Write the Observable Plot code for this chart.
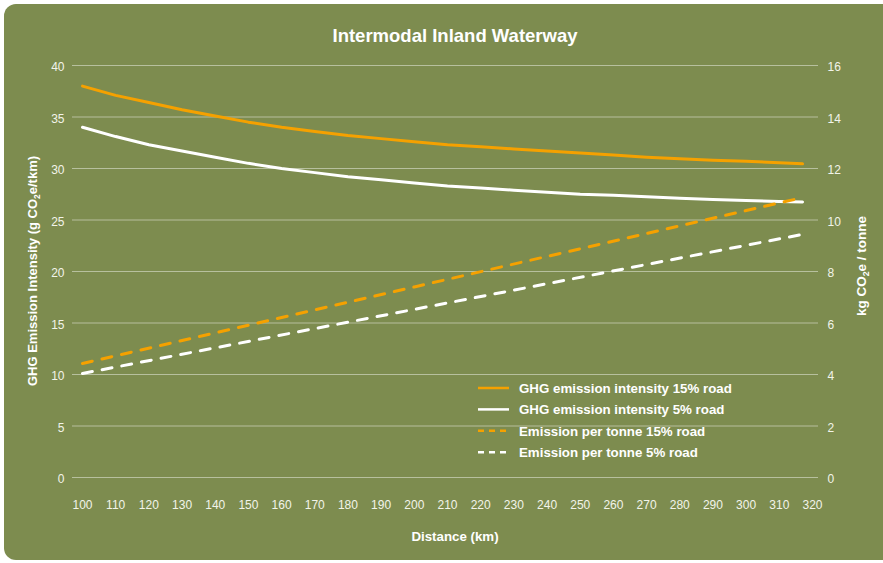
<!DOCTYPE html>
<html>
<head>
<meta charset="utf-8">
<script src="https://cdn.jsdelivr.net/npm/d3@7"></script>
<script src="https://cdn.jsdelivr.net/npm/@observablehq/plot@0.6"></script>
<style>
  html, body { margin: 0; padding: 0; background: #ffffff; }
  body { width: 883px; height: 563px; position: relative; overflow: hidden; font-family: "Liberation Sans", Arial, Helvetica, sans-serif; }
  #card { position: absolute; left: 4px; top: 4px; width: 900px; height: 556px; background: #7d8c4f; border-radius: 12px; }
  #chart { position: absolute; left: 0; top: 0; }
  #overlay { position: absolute; left: 0; top: 0; pointer-events: none; }
</style>
</head>
<body>
<div id="card"></div>
<div id="chart"></div>
<svg id="overlay" width="883" height="563"></svg>
<script>
// ---- data ----
const distance = [100,110,120,130,140,150,160,170,180,190,200,210,220,230,240,250,260,270,280,290,300,310,317];
const intensity15 = [38.0,37.1,36.4,35.7,35.1,34.5,34.0,33.6,33.2,32.9,32.6,32.3,32.1,31.9,31.7,31.5,31.3,31.1,30.95,30.8,30.7,30.55,30.45];
const intensity5  = [34.0,33.1,32.3,31.7,31.1,30.5,30.0,29.6,29.2,28.9,28.6,28.3,28.1,27.9,27.7,27.5,27.4,27.25,27.1,27.0,26.9,26.8,26.75];
const tonneDistance = [100, 200, 317];
const perTonne15 = [4.43, 7.40, 10.87];
const perTonne5  = [4.04, 6.53, 9.44];
const xTicks = [100,110,120,130,140,150,160,170,180,190,200,210,220,230,240,250,260,270,280,290,300,310,320];
const leftTicks = [0,5,10,15,20,25,30,35,40];
const rightTicks = [0,2,4,6,8,10,12,14,16];
const seriesNames = ["GHG emission intensity 15% road","GHG emission intensity 5% road","Emission per tonne 15% road","Emission per tonne 5% road"];
const title = "Intermodal Inland Waterway";

const ORANGE = "#f5a100";
const WHITE = "#ffffff";
const ratio = leftTicks[leftTicks.length-1] / rightTicks[rightTicks.length-1]; // 2.5

const solid15 = distance.map((d,i) => ({d, v: intensity15[i]}));
const solid5 = distance.map((d,i) => ({d, v: intensity5[i]}));
const dash15 = tonneDistance.map((d,i) => ({d, v: perTonne15[i] * ratio}));
const dash5 = tonneDistance.map((d,i) => ({d, v: perTonne5[i] * ratio}));

const chart = Plot.plot({
  width: 883,
  height: 563,
  marginLeft: 72,
  marginRight: 65,
  marginTop: 65,
  marginBottom: 86,
  style: { background: "transparent", color: "#f2f4ea", fontFamily: "'Liberation Sans', Arial, Helvetica, sans-serif", fontSize: "12px" },
  x: { domain: [100, 320], range: [82, 812] },
  y: { domain: [0, 40] },
  marks: [
    Plot.ruleY(leftTicks, { stroke: "rgba(255,255,255,0.45)", strokeWidth: 1 }),
    Plot.axisX({ ticks: xTicks, tickSize: 0, tickPadding: 23, label: null, tickFormat: d => String(d) }),
    Plot.axisY({ ticks: leftTicks, anchor: "left", tickSize: 0, tickPadding: 8, label: null, dy: 2 }),
    Plot.axisY({ ticks: leftTicks, anchor: "right", tickSize: 0, tickPadding: 9, label: null, dy: 2, tickFormat: d => String(d / ratio) }),
    Plot.line(dash5, { x: "d", y: "v", stroke: WHITE, strokeWidth: 3, strokeDasharray: "10,10" }),
    Plot.line(solid5, { x: "d", y: "v", stroke: WHITE, strokeWidth: 3 }),
    Plot.line(dash15, { x: "d", y: "v", stroke: ORANGE, strokeWidth: 3, strokeDasharray: "10,10" }),
    Plot.line(solid15, { x: "d", y: "v", stroke: ORANGE, strokeWidth: 3 })
  ]
});
document.getElementById("chart").appendChild(chart);

// ---- overlay: title, axis titles, legend ----
const svg = d3.select("#overlay");
const font = "'Liberation Sans', Arial, Helvetica, sans-serif";

svg.append("text").attr("x", 455).attr("y", 42).attr("text-anchor", "middle")
  .attr("fill", "#fff").attr("font-family", font).attr("font-weight", "bold").attr("font-size", 18.5)
  .text(title);

svg.append("text").attr("x", 455).attr("y", 541).attr("text-anchor", "middle")
  .attr("fill", "#fff").attr("font-family", font).attr("font-weight", "bold").attr("font-size", 13.3)
  .text("Distance (km)");

function co2Label(x, y, before, after, size) {
  const t = svg.append("text").attr("transform", `translate(${x},${y}) rotate(-90)`)
    .attr("text-anchor", "middle").attr("fill", "#fff").attr("font-family", font)
    .attr("font-weight", "bold").attr("font-size", size);
  t.append("tspan").text(before);
  t.append("tspan").attr("font-size", size * 0.65).attr("dy", 3).text("2");
  t.append("tspan").attr("dy", -3).text(after);
}
co2Label(37, 271, "GHG Emission Intensity (g CO", "e/tkm)", 13);
co2Label(866, 266, "kg CO", "e / tonne", 13.5);

const legendRows = [
  { name: seriesNames[0], color: ORANGE, dash: null },
  { name: seriesNames[1], color: WHITE, dash: null },
  { name: seriesNames[2], color: ORANGE, dash: "6,5" },
  { name: seriesNames[3], color: WHITE, dash: "6,5" }
];
const lg = svg.append("g");
legendRows.forEach((r, i) => {
  const y = 388 + i * 21.4;
  const ln = lg.append("line").attr("x1", 478).attr("x2", 509).attr("y1", y).attr("y2", y)
    .attr("stroke", r.color).attr("stroke-width", 2.5);
  if (r.dash) ln.attr("stroke-dasharray", r.dash);
  lg.append("text").attr("x", 519).attr("y", y + 4.8).attr("fill", "#fff")
    .attr("font-family", font).attr("font-weight", "bold").attr("font-size", 13.3).text(r.name);
});
</script>
</body>
</html>
